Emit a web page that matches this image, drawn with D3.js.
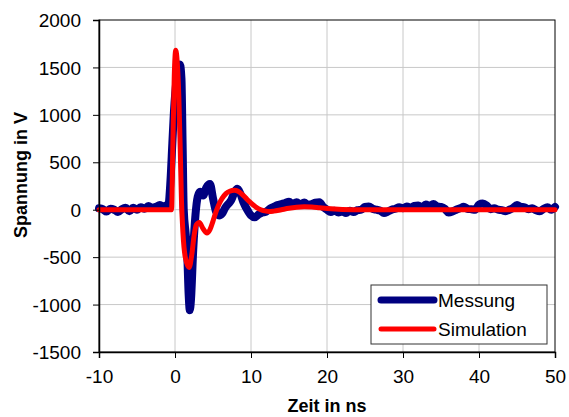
<!DOCTYPE html>
<html>
<head>
<meta charset="utf-8">
<script src="https://cdn.jsdelivr.net/npm/d3@7"></script>
<style>
  body { margin: 0; background: #fff; }
  svg { font-family: "Liberation Sans", Arial, sans-serif; }
</style>
</head>
<body>
<div id="chart"></div>
<script>
// Messung (Zeit in ns, Spannung in V)
var messZeit = [-10, -9.5, -9, -8.5, -8, -7.5, -7, -6.5, -6, -5.5, -5, -4.5, -4, -3.5, -3, -2.5, -2, -1.5, -1.2,
    -0.9, -0.6, -0.35, -0.15, 0.25, 0.65, 0.85, 1.0, 1.15, 1.4, 1.6, 1.8, 1.95, 2.1, 2.4, 2.7, 3.0, 3.3, 3.7, 4.1, 4.6,
    5.0, 5.4, 5.8, 6.2, 6.6, 7.0, 7.4, 7.8, 8.2, 8.6, 9.0, 9.5, 10, 10.5, 11, 11.5, 12, 12.5, 13, 13.5, 14, 14.5,
    15, 15.5, 16, 16.5, 17, 17.5, 18, 18.5, 19, 19.5, 20, 20.5, 21, 21.5, 22, 22.5, 23, 23.5, 24, 24.5,
    25, 25.5, 26, 26.5, 27, 27.5, 28, 28.5, 29, 29.5, 30, 30.5, 31, 31.5, 32, 32.5, 33, 33.5, 34, 34.5,
    35, 35.5, 36, 36.5, 37, 37.5, 38, 38.5, 39, 39.5, 40, 40.5, 41, 41.5, 42, 42.5, 43, 43.5, 44, 44.5,
    45, 45.5, 46, 46.5, 47, 47.5, 48, 48.5, 49, 49.5, 50];
var messWerte = [15, 5, -20, 10, 0, -25, 5, 20, -15, 20, 0, 25, 10, 40, 20, 30, 50, 25, 45,
    30, 300, 700, 1020, 1400, 1530, 1380, 700, 0, -250, -450, -900, -1060, -950, -420, -50, 140, 190, 150, 230, 270,
    120, -20, -60, -40, 20, 60, 100, 180, 220, 170, 80, 0, -60, -80, -50, -30, -20, 10, 30, 50, 60, 70,
    85, 60, 80, 55, 75, 50, 60, 75, 80, 30, 0, -25, -10, -30, -20, -35, -10, -25, -5, 0,
    30, 35, 10, 0, -10, -35, -20, 0, 10, 25, 15, 35, 20, 40, 45, 25, 55, 40, 60, 35,
    30, 10, -30, -20, 0, 15, 30, 10, 5, 0, 55, 65, 45, 5, 15, 0, -5, -15, 0, 20,
    50, 30, 25, 5, 15, -5, -15, 10, 25, 0, 30];

// Simulation
var simZeit = [-10, -5, -1, -0.45, -0.3, -0.1, 0.1, 0.3, 0.5, 0.7, 0.85, 1.05, 1.35, 1.85, 2.2, 2.5, 2.8, 3.2, 3.7, 4.2, 4.6,
    5.0, 5.4, 5.8, 6.2, 6.7, 7.2, 7.8, 8.3, 8.8, 9.3, 9.8, 10.3, 10.8, 11.3, 11.8, 12.4, 13, 14, 15, 16, 17, 18, 19, 20,
    22, 25, 30, 35, 40, 45, 50];
var simWerte = [0, 0, 0, 0, 600, 1400, 1680, 1550, 1200, 600, 100, -250, -500, -610, -480, -280, -160, -135, -200, -245, -210,
    -120, -20, 60, 120, 170, 195, 205, 195, 165, 125, 85, 50, 20, 0, -12, -20, -15, 0, 15, 25, 30, 28, 20, 12,
    3, 0, 0, 0, 0, 0, 0];

var xTicks = [-10, 0, 10, 20, 30, 40, 50];
var yTicks = [-1500, -1000, -500, 0, 500, 1000, 1500, 2000];
var serien = ["Messung", "Simulation"];

var width = 569, height = 417;
var margin = {top: 20, right: 14, bottom: 65, left: 99};

var svg = d3.select("#chart").append("svg")
    .attr("width", width)
    .attr("height", height);

var x = d3.scaleLinear().domain([-10, 50]).range([margin.left, width - margin.right]);
var y = d3.scaleLinear().domain([-1500, 2000]).range([height - margin.bottom, margin.top]);

// Gitter
svg.append("g").selectAll("line").data(xTicks.slice(1, -1)).enter().append("line")
    .attr("x1", function (d) { return x(d); }).attr("x2", function (d) { return x(d); })
    .attr("y1", y(2000)).attr("y2", y(-1500))
    .attr("stroke", "#c8c8c8").attr("stroke-width", 1);
svg.append("g").selectAll("line").data(yTicks.slice(1, -1)).enter().append("line")
    .attr("x1", x(-10)).attr("x2", x(50))
    .attr("y1", function (d) { return y(d); }).attr("y2", function (d) { return y(d); })
    .attr("stroke", "#c8c8c8").attr("stroke-width", 1);

// Rahmen
svg.append("rect")
    .attr("x", x(-10)).attr("y", y(2000))
    .attr("width", x(50) - x(-10)).attr("height", y(-1500) - y(2000))
    .attr("fill", "none").attr("stroke", "#000").attr("stroke-width", 1);

var line = d3.line()
    .x(function (d) { return x(d[0]); })
    .y(function (d) { return y(d[1]); })
    .curve(d3.curveMonotoneX);

svg.append("path")
    .datum(d3.zip(messZeit, messWerte))
    .attr("d", line)
    .attr("fill", "none")
    .attr("stroke", "#000080")
    .attr("stroke-width", 8)
    .attr("stroke-linejoin", "round")
    .attr("stroke-linecap", "round");

svg.append("path")
    .datum(d3.zip(simZeit, simWerte))
    .attr("d", line)
    .attr("fill", "none")
    .attr("stroke", "#ff0000")
    .attr("stroke-width", 5)
    .attr("stroke-linejoin", "round")
    .attr("stroke-linecap", "round");

// Achsen
var fmt = function (d) { return String(d); };
var xAxis = svg.append("g")
    .attr("transform", "translate(0," + y(-1500) + ")")
    .call(d3.axisBottom(x).tickValues(xTicks).tickFormat(fmt).tickSize(6).tickPadding(12));
var yAxis = svg.append("g")
    .attr("transform", "translate(" + x(-10) + ",0)")
    .call(d3.axisLeft(y).tickValues(yTicks).tickFormat(fmt).tickSize(6).tickPadding(12));
[xAxis, yAxis].forEach(function (a) {
    a.selectAll("text").attr("font-size", 19).attr("fill", "#000")
        .attr("font-family", "Liberation Sans, Arial, sans-serif");
    a.selectAll("line").attr("stroke", "#000");
    a.select(".domain").attr("stroke", "#000").attr("stroke-width", 1.5);
});
yAxis.selectAll("text").attr("dy", "0.35em");

svg.append("text")
    .attr("x", (x(-10) + x(50)) / 2)
    .attr("y", 412)
    .attr("text-anchor", "middle")
    .attr("font-size", 18)
    .attr("font-weight", "bold")
    .text("Zeit in ns");

svg.append("text")
    .attr("transform", "translate(27,175) rotate(-90)")
    .attr("text-anchor", "middle")
    .attr("font-size", 18)
    .attr("font-weight", "bold")
    .text("Spannung in V");

// Legende
var legend = svg.append("g");
legend.append("rect")
    .attr("x", 371).attr("y", 285).attr("width", 176).attr("height", 59)
    .attr("fill", "#fff").attr("stroke", "#333").attr("stroke-width", 1);
var farben = ["#000080", "#ff0000"];
var dicken = [7, 5];
serien.forEach(function (s, i) {
    var ly = 300 + i * 29;
    legend.append("line")
        .attr("x1", 381).attr("x2", 434)
        .attr("y1", ly).attr("y2", ly)
        .attr("stroke", farben[i]).attr("stroke-width", dicken[i])
        .attr("stroke-linecap", "round");
    legend.append("text")
        .attr("x", 438).attr("y", ly).attr("dy", "0.35em")
        .attr("font-size", 19)
        .text(s);
});
</script>
</body>
</html>
